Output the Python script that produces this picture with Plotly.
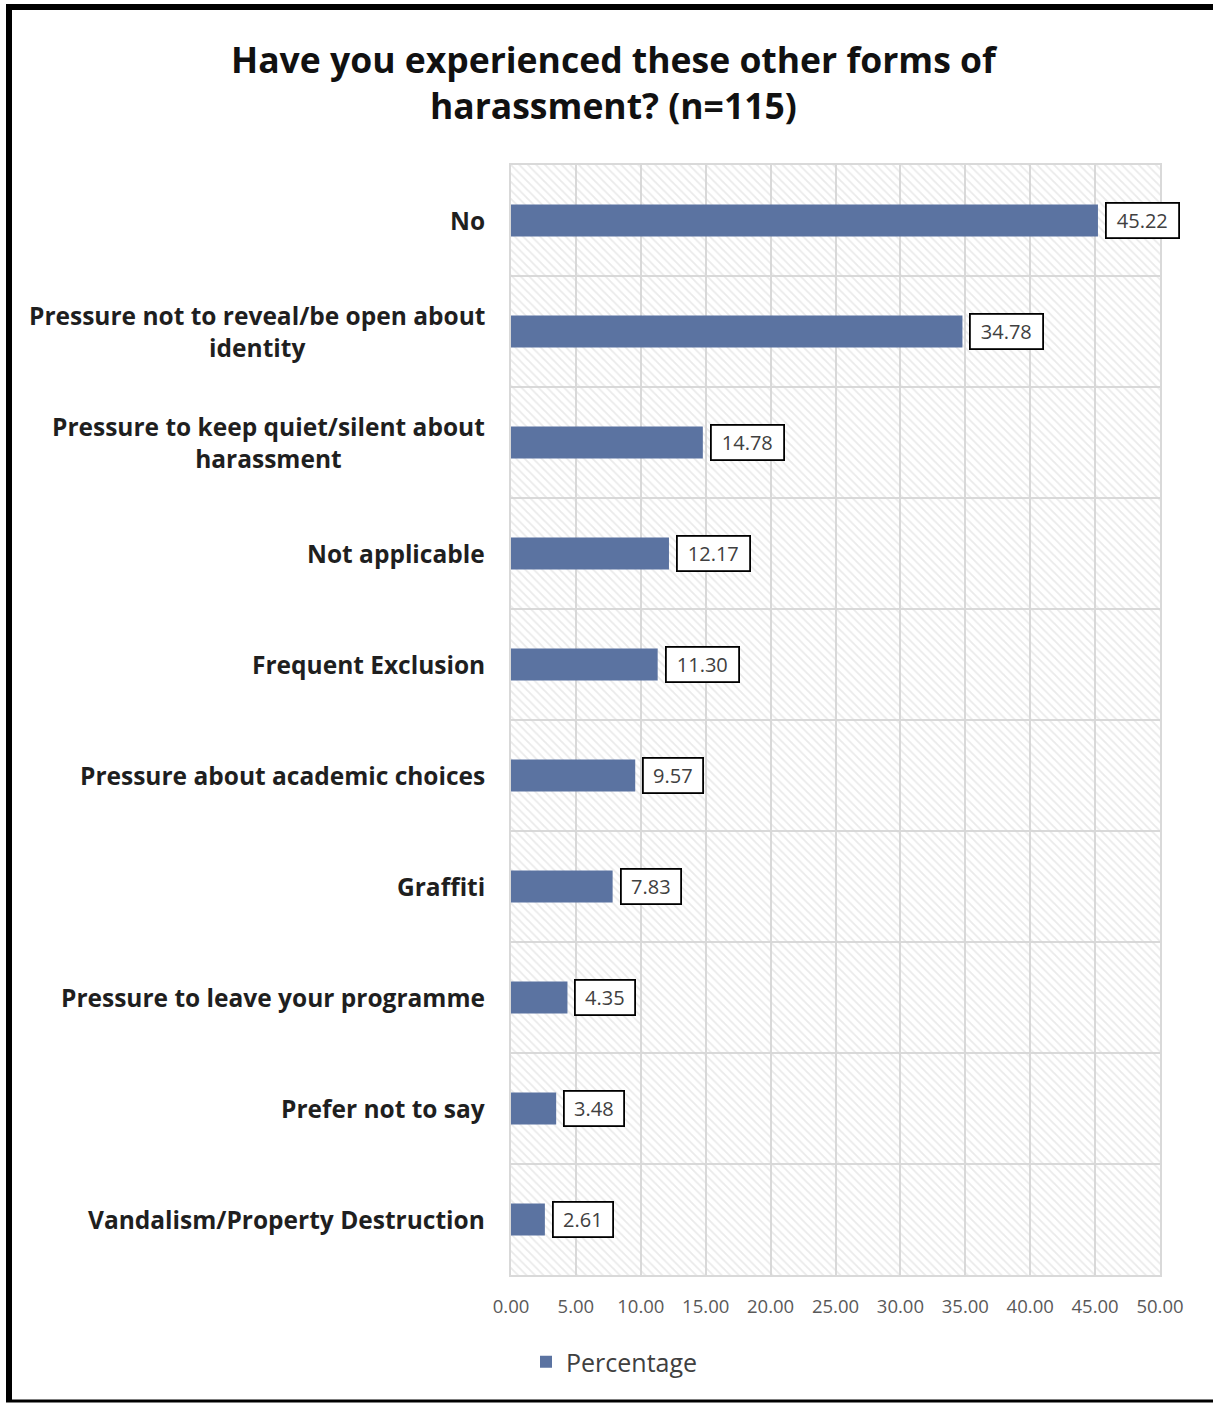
import plotly.graph_objects as go

categories = [
    "No",
    "Pressure not to reveal/be open about<br>identity",
    "Pressure to keep quiet/silent about<br>harassment",
    "Not applicable",
    "Frequent Exclusion",
    "Pressure about academic choices",
    "Graffiti",
    "Pressure to leave your programme",
    "Prefer not to say",
    "Vandalism/Property Destruction",
]
values = [45.22, 34.78, 14.78, 12.17, 11.30, 9.57, 7.83, 4.35, 3.48, 2.61]
series_name = "Percentage"
x_ticks = [0, 5, 10, 15, 20, 25, 30, 35, 40, 45, 50]
title_text = "Have you experienced these other forms of<br>harassment? (n=115)"

W, H = 1213, 1403
L, R, T, B = 511, 53, 165, 128
pw, ph = W - L - R, H - T - B

def px_x(p):
    return (p - L) / pw

def px_y(p):
    return 1 - (p - T) / ph

bar_color = "#5B73A1"
grid_color = "#D9D9D9"
font_family = "'Open Sans', 'Noto Sans', Arial, sans-serif"

fig = go.Figure()

# hatch background on the base axes (unit square)
fig.add_trace(go.Scatter(
    x=[0, 1, 1, 0, 0], y=[0, 0, 1, 1, 0],
    mode="lines", fill="toself", line=dict(width=0),
    fillcolor="rgba(0,0,0,0)",
    fillpattern=dict(shape="\\", fgcolor="#D6D6D6", bgcolor="rgba(0,0,0,0)",
                     size=6, solidity=0.3),
    hoverinfo="skip", showlegend=False,
    xaxis="x", yaxis="y",
))

fig.add_trace(go.Bar(
    x=values, y=categories, orientation="h",
    marker=dict(color=bar_color, line=dict(width=0)),
    width=0.29, name=series_name, showlegend=True,
    xaxis="x2", yaxis="y2",
))

annotations = []
for c, v in zip(categories, values):
    txt = f"{v:.2f}"
    annotations.append(dict(
        x=v, y=c, xref="x2", yref="y2", text=txt,
        xanchor="left", yanchor="middle", xshift=7, showarrow=False,
        font=dict(size=20, color="#404040", family=font_family),
        width=13 * len(txt), height=27, align="center",
        bordercolor="#000000", borderwidth=1.8, borderpad=3, bgcolor="#FFFFFF",
    ))
    annotations.append(dict(
        x=0, y=c, xref="paper", yref="y2", text=c,
        xanchor="right", yanchor="middle", xshift=-24, showarrow=False,
        align="center",
        font=dict(size=24.5, color="#1F1F1F", family=font_family, weight="bold"),
    ))

annotations.append(dict(
    x=px_x(614), y=px_y(82), xref="paper", yref="paper", text=title_text,
    xanchor="center", yanchor="middle", showarrow=False, align="center",
    font=dict(size=35.5, color="#111111", family=font_family, weight="bold"),
))

shapes = [
    dict(type="line", xref="paper", yref="paper", x0=px_x(9), x1=px_x(9),
         y0=px_y(5), y1=px_y(1402), line=dict(color="black", width=6)),
    dict(type="line", xref="paper", yref="paper", x0=px_x(6), x1=px_x(1215),
         y0=px_y(7), y1=px_y(7), line=dict(color="black", width=6)),
    dict(type="line", xref="paper", yref="paper", x0=px_x(6), x1=px_x(1215),
         y0=px_y(1401), y1=px_y(1401), line=dict(color="black", width=3)),
]

fig.update_layout(
    width=W, height=H,
    margin=dict(l=L, r=R, t=T, b=B, pad=0),
    paper_bgcolor="white", plot_bgcolor="white",
    font=dict(family=font_family),
    xaxis=dict(range=[0, 1], visible=False, fixedrange=True),
    yaxis=dict(range=[0, 1], visible=False, fixedrange=True),
    xaxis2=dict(
        overlaying="x", side="bottom", range=[0, 50], tickvals=x_ticks,
        tickformat=".2f", showgrid=True, gridcolor=grid_color, gridwidth=1.5,
        zeroline=False, showline=True, linecolor=grid_color, linewidth=1.5,
        mirror=True, ticks="", ticklabelstandoff=14,
        tickfont=dict(size=18.5, color="#595959", family=font_family),
    ),
    yaxis2=dict(
        overlaying="y", side="left", type="category",
        categoryorder="array", categoryarray=categories, autorange="reversed",
        tickson="boundaries", showgrid=True, gridcolor=grid_color, gridwidth=1.5,
        showticklabels=False, ticks="", showline=True, linecolor=grid_color,
        linewidth=1.5, mirror=True, zeroline=False,
    ),
    bargap=0.71,
    legend=dict(orientation="h", x=px_x(526), y=px_y(1362), xanchor="left",
                yanchor="middle", font=dict(size=25, color="#404040", family=font_family),
                bgcolor="rgba(0,0,0,0)"),
    annotations=annotations,
    shapes=shapes,
)

fig.write_html(
    "out.html",
    config={"displayModeBar": False},
    post_script="document.body.style.margin='0';document.body.style.overflow='hidden';",
)
